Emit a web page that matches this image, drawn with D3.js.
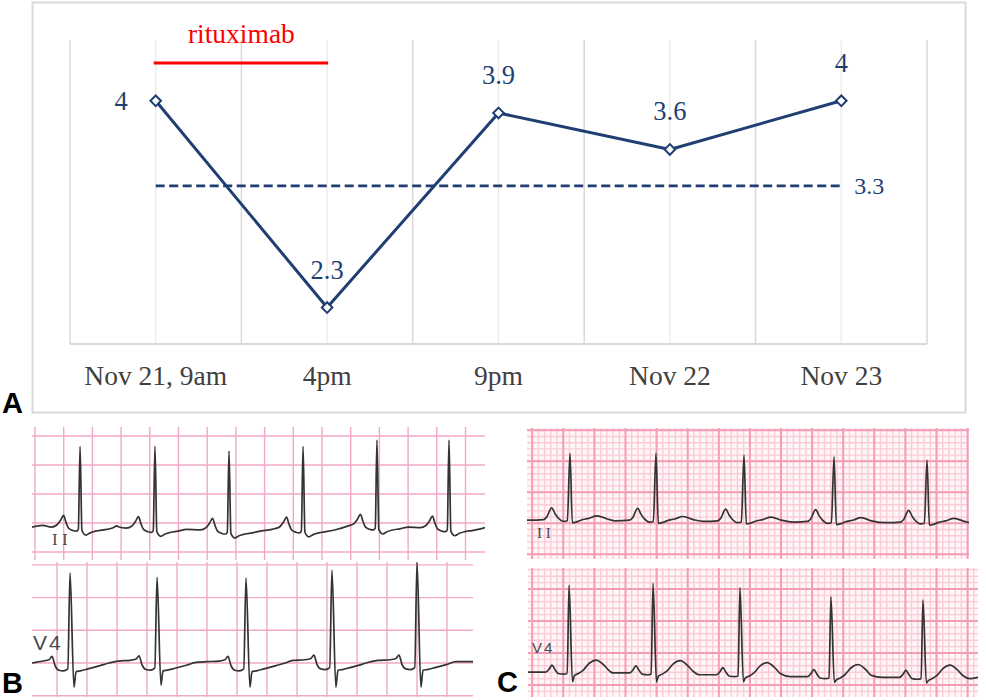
<!DOCTYPE html>
<html>
<head>
<meta charset="utf-8">
<script src="https://cdn.jsdelivr.net/npm/d3@7"></script>
<style>
  body { margin: 0; background: #fff; }
  text { font-family: "Liberation Serif", "Times New Roman", serif; }
</style>
</head>
<body>
<svg id="fig" width="986" height="700"></svg>
<script>
// ---- panel A data ----
const times = ["Nov 21, 9am", "4pm", "9pm", "Nov 22", "Nov 23"];
const values = [4, 2.3, 3.9, 3.6, 4];
const refValue = 3.3;
const yDomain = [2, 4.5];
const drugLabel = "rituximab";
const drugSpan = ["Nov 21, 9am", "4pm"];

// ---- ECG data (time in s, amplitude in mV, read off the strips) ----
// beat template: offset from R peak (s) and level above baseline (mV); "R"/"S" use the per-beat peaks
const bIIBeats = [0.314, 0.836, 1.352, 1.868, 2.383, 2.885];
const bIIR = [1.32, 1.32, 1.24, 1.32, 1.43, 1.43];
const bIIBase = [-0.07, -0.09, -0.12, -0.1, -0.05, -0.08];
const bIIShapeT = [-0.26, -0.2, -0.16, -0.135, -0.115, -0.098, -0.08, -0.05, -0.025, -0.012, 0, 0.013, 0.04, 0.07, 0.11, 0.16, 0.22, 0.26];
const bIIShapeV = [0.03, 0.0, 0.04, 0.12, 0.2, 0.08, -0.02, -0.06, -0.07, -0.04, "R", -0.06, -0.14, -0.1, -0.07, -0.05, -0.02, 0.02];

const bV4Beats = [0.087, 0.667, 1.26, 1.833, 2.4];
const bV4R = [1.38, 1.31, 1.3, 1.42, 1.54];
const bV4S = [-0.37, -0.34, -0.37, -0.37, -0.37];
const bV4Base = [0, 0.01, 0.0, 0.02, 0.02];
const bV4ShapeT = [-0.26, -0.18, -0.14, -0.12, -0.1, -0.075, -0.045, -0.015, 0, 0.026, 0.04, 0.07, 0.12, 0.2, 0.26];
const bV4ShapeV = [0.02, 0.03, 0.05, 0.1, -0.04, -0.11, -0.12, -0.09, "R", "S", -0.13, -0.12, -0.09, -0.04, 0.0];

const cIIBeats = [0.043, 0.596, 1.162, 1.741, 2.339];
const cIIR = [1.13, 1.13, 1.1, 1.07, 1.02];
const cIIBase = [0.05, 0.04, 0.03, 0.02, 0.01];
const cIIShapeT = [-0.26, -0.17, -0.15, -0.118, -0.095, -0.077, -0.04, -0.017, 0, 0.015, 0.04, 0.07, 0.12, 0.175, 0.24, 0.3];
const cIIShapeV = [0, 0.01, 0.05, 0.2, 0.1, 0.04, -0.02, -0.01, "R", -0.04, -0.03, 0, 0.03, 0.07, 0.02, 0];

const cV4Beats = [0.037, 0.577, 1.136, 1.721, 2.313];
const cV4R = [1.56, 1.59, 1.52, 1.38, 1.33];
const cV4S = [0.05, 0.05, 0.05, 0.04, 0.03];
const cV4Base = [0.2, 0.19, 0.16, 0.13, 0.12];
const cV4ShapeT = [-0.26, -0.15, -0.125, -0.11, -0.09, -0.07, -0.035, -0.012, 0, 0.022, 0.035, 0.06, 0.09, 0.13, 0.175, 0.22, 0.26, 0.3];
const cV4ShapeV = [0, 0, 0.06, 0.11, 0.04, -0.02, -0.03, -0.02, "R", "S", -0.05, -0.02, 0.03, 0.14, 0.19, 0.12, 0.02, -0.02];

const svg = d3.select("#fig");
const navy = "#1f3f73";

// ================= panel A =================
const x = d3.scaleBand().domain(times).range([70, 927]);
const y = d3.scaleLinear().domain(yDomain).range([344, 40]);
const cx = d => x(d) + x.bandwidth() / 2;

svg.append("rect")
  .attr("x", 32.5).attr("y", 2.5).attr("width", 933).attr("height", 410)
  .attr("fill", "#fff").attr("stroke", "#d9d9d9").attr("stroke-width", 2);

// vertical gridlines: category borders darker, category centres lighter
const borders = times.map(t => x(t)).concat([x.range()[1]]);
svg.append("g").selectAll("line").data(times).join("line")
  .attr("x1", cx).attr("x2", cx)
  .attr("y1", y(yDomain[1])).attr("y2", y(yDomain[0]))
  .attr("stroke", "#ececec").attr("stroke-width", 1.5);
svg.append("g").selectAll("line").data(borders).join("line")
  .attr("x1", d => d).attr("x2", d => d)
  .attr("y1", y(yDomain[1])).attr("y2", y(yDomain[0]))
  .attr("stroke", "#d9d9d9").attr("stroke-width", 1.5);
svg.append("line")
  .attr("x1", x.range()[0]).attr("x2", x.range()[1])
  .attr("y1", y(yDomain[0])).attr("y2", y(yDomain[0]))
  .attr("stroke", "#d9d9d9").attr("stroke-width", 2);

const xAxis = svg.append("g")
  .attr("transform", `translate(0,${y(yDomain[0])})`)
  .call(d3.axisBottom(x).tickSize(0).tickPadding(21));
xAxis.select(".domain").remove();
xAxis.selectAll("text")
  .attr("fill", "#404040")
  .style("font-family", '"Liberation Serif", serif')
  .style("font-size", "27.5px");

// reference line
svg.append("line")
  .attr("x1", cx(times[0])).attr("x2", cx(times[times.length - 1]))
  .attr("y1", y(refValue)).attr("y2", y(refValue))
  .attr("stroke", navy).attr("stroke-width", 2.6).attr("stroke-dasharray", "9,4.5");
svg.append("text")
  .attr("x", cx(times[times.length - 1]) + 13).attr("y", y(refValue))
  .attr("dy", "0.35em").attr("fill", navy).style("font-size", "24px")
  .text(refValue);

// rituximab bar
const barY = 63;
svg.append("line")
  .attr("x1", cx(drugSpan[0]) - 2).attr("x2", cx(drugSpan[1]) + 1)
  .attr("y1", barY).attr("y2", barY)
  .attr("stroke", "#ff0000").attr("stroke-width", 3);
svg.append("text")
  .attr("x", (cx(drugSpan[0]) + cx(drugSpan[1])) / 2).attr("y", barY - 20)
  .attr("text-anchor", "middle").attr("fill", "#ff0000").style("font-size", "27.5px")
  .text(drugLabel);

// series
const line = d3.line().x((d, i) => cx(times[i])).y(d => y(d));
svg.append("path").datum(values)
  .attr("d", line).attr("fill", "none")
  .attr("stroke", navy).attr("stroke-width", 3).attr("stroke-linejoin", "round");

svg.append("g").selectAll("path").data(values).join("path")
  .attr("d", d3.symbol(d3.symbolSquare, 56))
  .attr("transform", (d, i) => `translate(${cx(times[i])},${y(d)}) rotate(45)`)
  .attr("fill", "#fff").attr("stroke", navy).attr("stroke-width", 2);

svg.append("g").selectAll("text").data(values).join("text")
  .attr("x", (d, i) => i === 0 ? cx(times[i]) - 28 : cx(times[i]))
  .attr("y", (d, i) => i === 0 ? y(d) : y(d) - 29)
  .attr("dy", (d, i) => i === 0 ? "0.35em" : 0)
  .attr("text-anchor", (d, i) => i === 0 ? "end" : "middle")
  .attr("fill", navy).style("font-size", "26.5px")
  .text(d => d);

// ================= ECG panels =================
const strips = [
  { box: [32, 427, 485, 560], t0: 35, pps: 143.5, v0: 523, ppm: 58, minor: false,
    beats: bIIBeats, R: bIIR, S: null, base: bIIBase, shT: bIIShapeT, shV: bIIShapeV,
    label: "I I", lx: 52, ly: 545, lsize: 17, serif: true },
  { box: [32, 562, 473, 697], t0: 57, pps: 150, v0: 663, ppm: 65.4, minor: false,
    beats: bV4Beats, R: bV4R, S: bV4S, base: bV4Base, shT: bV4ShapeT, shV: bV4ShapeV,
    label: "V4", lx: 33, ly: 650, lsize: 21, serif: false },
  { box: [527, 428, 969, 559], t0: 563.3, pps: 155.5, v0: 523.3, ppm: 62, minor: true,
    beats: cIIBeats, R: cIIR, S: null, base: cIIBase, shT: cIIShapeT, shV: cIIShapeV,
    label: "I I", lx: 537, ly: 538, lsize: 15, serif: true },
  { box: [528, 568, 978, 697], t0: 563.3, pps: 155.5, v0: 685, ppm: 64, minor: true,
    beats: cV4Beats, R: cV4R, S: cV4S, base: cV4Base, shT: cV4ShapeT, shV: cV4ShapeV,
    label: "V4", lx: 532, ly: 653, lsize: 15, serif: false }
];

function steps(d0, d1, step) {
  const a = Math.ceil(d0 / step - 1e-6), b = Math.floor(d1 / step + 1e-6);
  return d3.range(a, b + 1).map(k => k * step);
}

strips.forEach((s, si) => {
  const [x0, y0, x1, y1] = s.box;
  const tx = d3.scaleLinear().domain([(x0 - s.t0) / s.pps, (x1 - s.t0) / s.pps]).range([x0, x1]);
  const vy = d3.scaleLinear().domain([(s.v0 - y1) / s.ppm, (s.v0 - y0) / s.ppm]).range([y1, y0]);
  const [tA, tB] = tx.domain();
  const [vA, vB] = vy.domain();

  const g = svg.append("g");
  g.append("clipPath").attr("id", "clip" + si)
    .append("rect").attr("x", x0).attr("y", y0).attr("width", x1 - x0).attr("height", y1 - y0);
  const grid = g.append("g").attr("clip-path", `url(#clip${si})`);
  grid.append("rect").attr("x", x0).attr("y", y0).attr("width", x1 - x0).attr("height", y1 - y0)
    .attr("fill", s.minor ? "#fff6f8" : "#fff");

  if (s.minor) {
    grid.append("g").selectAll("line").data(steps(tA, tB, 0.04)).join("line")
      .attr("x1", tx).attr("x2", tx).attr("y1", y0).attr("y2", y1)
      .attr("stroke", "#fbcbd8").attr("stroke-width", 1.4);
    grid.append("g").selectAll("line").data(steps(vA, vB, 0.1)).join("line")
      .attr("y1", vy).attr("y2", vy).attr("x1", x0).attr("x2", x1)
      .attr("stroke", "#fbcbd8").attr("stroke-width", 1.4);
  }
  const major = s.minor ? "#f59db5" : "#f2a8c8";
  grid.append("g").selectAll("line").data(steps(tA, tB, 0.2)).join("line")
    .attr("x1", tx).attr("x2", tx).attr("y1", y0).attr("y2", y1)
    .attr("stroke", major).attr("stroke-width", s.minor ? 2 : 1.4);
  grid.append("g").selectAll("line").data(steps(vA, vB, 0.5)).join("line")
    .attr("y1", vy).attr("y2", vy).attr("x1", x0).attr("x2", x1)
    .attr("stroke", major).attr("stroke-width", s.minor ? 2 : 1.4);

  // build trace from beats and template
  const n = s.beats.length;
  const pts = [[tA, s.base[0]]];
  s.beats.forEach((bt, i) => {
    const lo = i > 0 ? (s.beats[i - 1] + bt) / 2 : tA;
    const hi = i < n - 1 ? (bt + s.beats[i + 1]) / 2 : tB;
    s.shT.forEach((dt, k) => {
      const t = bt + dt;
      if (t <= lo || t >= hi) return;
      const sv = s.shV[k];
      const v = sv === "R" ? s.R[i] : sv === "S" ? s.S[i] : s.base[i] + sv;
      pts.push([t, v]);
    });
  });
  pts.push([tB, s.base[n - 1]]);

  grid.append("path").datum(pts)
    .attr("d", d3.line().x(d => tx(d[0])).y(d => vy(d[1])).curve(d3.curveMonotoneX))
    .attr("fill", "none").attr("stroke", "#333").attr("stroke-width", 1.7)
    .attr("stroke-linejoin", "round");

  g.append("text").attr("x", s.lx).attr("y", s.ly)
    .attr("fill", "#4a4a4a")
    .style("font-family", s.serif ? '"Liberation Serif", serif' : '"Liberation Sans", sans-serif')
    .style("font-size", s.lsize + "px")
    .style("letter-spacing", s.serif ? "0px" : "2px")
    .text(s.label);
});

// panel letters
const letters = [["A", 2, 413], ["B", 2, 693], ["C", 497, 692]];
svg.append("g").selectAll("text").data(letters).join("text")
  .attr("x", d => d[1]).attr("y", d => d[2])
  .style("font-family", '"Liberation Sans", Arial, sans-serif')
  .style("font-weight", "bold").style("font-size", "29px")
  .attr("fill", "#000")
  .text(d => d[0]);
</script>
</body>
</html>
